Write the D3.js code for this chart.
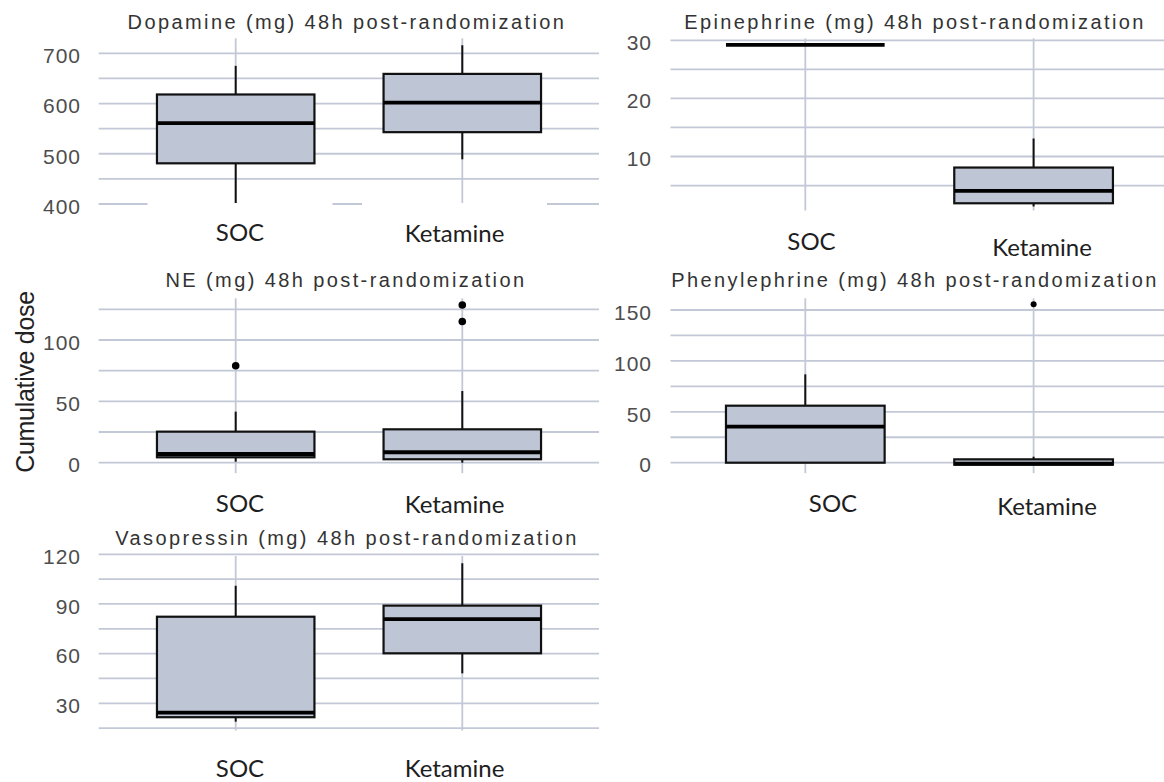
<!DOCTYPE html>
<html><head><meta charset="utf-8">
<script src="https://cdn.jsdelivr.net/npm/d3@7"></script>
<style>html,body{margin:0;padding:0;background:#fff;} svg{display:block;}</style>
</head><body><svg id="chart" width="1164" height="782"></svg>
<script>
// ---------- data ----------
const groups = ["SOC", "Ketamine"];
const panelTitles = [
  "Dopamine (mg) 48h post-randomization",
  "Epinephrine (mg) 48h post-randomization",
  "NE (mg) 48h post-randomization",
  "Phenylephrine (mg) 48h post-randomization",
  "Vasopressin (mg) 48h post-randomization"
];
// per group: [lower whisker, Q1, median, Q3, upper whisker]
const dopamineStats      = [[400, 481, 561, 618, 675], [489, 543, 602, 659, 716]];
const epinephrineStats   = [[29.2, 29.2, 29.2, 29.2, 29.2], [1.4, 1.95, 4.1, 8.1, 13.1]];
const neStats            = [[0.8, 4.4, 7.1, 25.3, 41.6], [0, 2.8, 8.5, 27.2, 58.4]];
const phenylephrineStats = [[0, 0, 35.4, 56, 86.8], [-2, -2, -1, 3.3, 5.9]];
const vasopressinStats   = [[18.9, 21.6, 24.4, 82.3, 101], [48.1, 60.2, 80.9, 89, 114.6]];
const dopamineOutliers      = [[], []];
const epinephrineOutliers   = [[], []];
const neOutliers            = [[79], [115, 128.5]];
const phenylephrineOutliers = [[], [155.6]];
const vasopressinOutliers   = [[], []];
const dopamineTicks = [400, 500, 600, 700];
const dopamineMinor = [450, 550, 650];
const epinephrineTicks = [10, 20, 30];
const epinephrineMinor = [5, 15, 25];
const neTicks = [0, 50, 100];
const neMinor = [25, 75, 125];
const phenylephrineTicks = [0, 50, 100, 150];
const phenylephrineMinor = [25, 75, 125];
const vasopressinTicks = [30, 60, 90, 120];
const vasopressinMinor = [15, 45, 75, 105];
const yAxisTitle = "Cumulative dose";

// ---------- layout (positions / styles only) ----------
const panels = [
  {stats: dopamineStats, out: dopamineOutliers, ticks: dopamineTicks, minor: dopamineMinor,
   cal: [400, 700], calPx: [204, 53.3], gx: [98.7, 599], centers: [235.7, 462.3], vy: [38.3, 203],
   tickRight: 81, titleX: 347, titleY: 28.5, labDx: [4.3, -7.8], labY: [241, 242], r: 3.8},
  {stats: epinephrineStats, out: epinephrineOutliers, ticks: epinephrineTicks, minor: epinephrineMinor,
   cal: [10, 30], calPx: [156.5, 40.3], gx: [670.5, 1164], centers: [805.3, 1033.6], vy: [38.3, 210.7],
   tickRight: 652, titleX: 915, titleY: 28.5, labDx: [6.2, 8.4], labY: [250, 256], r: 3.8},
  {stats: neStats, out: neOutliers, ticks: neTicks, minor: neMinor,
   cal: [0, 125], calPx: [462.7, 309.3], gx: [98.7, 599], centers: [235.7, 462.3], vy: [298.3, 473.3],
   tickRight: 81, titleX: 346, titleY: 287, labDx: [4.3, -7.8], labY: [512, 513], r: 3.8},
  {stats: phenylephrineStats, out: phenylephrineOutliers, ticks: phenylephrineTicks, minor: phenylephrineMinor,
   cal: [0, 150], calPx: [462.7, 310], gx: [670.5, 1164], centers: [805.3, 1033.6], vy: [298.3, 473.3],
   tickRight: 652, titleX: 915, titleY: 287, labDx: [27.7, 13.4], labY: [512, 515], r: 3.0},
  {stats: vasopressinStats, out: vasopressinOutliers, ticks: vasopressinTicks, minor: vasopressinMinor,
   cal: [30, 120], calPx: [703.3, 554.3], gx: [98.7, 599], centers: [235.7, 462.3], vy: [556, 730.7],
   tickRight: 81, titleX: 347, titleY: 545, labDx: [4.3, -7.8], labY: [777, 777], r: 3.8}
];

const gridColor = "#c3c8d7";
const boxFill = "#bec5d5";
const svg = d3.select("#chart");

panels.forEach((p, i) => {
  const g = svg.append("g");
  const y = d3.scaleLinear().domain(p.cal).range(p.calPx);
  const x = d3.scalePoint().domain(groups).range(p.centers);
  const bw = 0.695 * (p.centers[1] - p.centers[0]);

  // horizontal gridlines
  g.selectAll("line.h").data(p.ticks.concat(p.minor)).join("line")
    .attr("x1", p.gx[0]).attr("x2", p.gx[1])
    .attr("y1", d => y(d)).attr("y2", d => y(d))
    .attr("stroke", gridColor).attr("stroke-width", 1.8);

  // vertical gridlines
  g.selectAll("line.v").data(groups).join("line")
    .attr("x1", d => x(d)).attr("x2", d => x(d))
    .attr("y1", p.vy[0]).attr("y2", p.vy[1])
    .attr("stroke", gridColor).attr("stroke-width", 1.8);

  // y axis tick labels
  const ax = g.append("g").attr("transform", `translate(${p.tickRight},0)`)
    .call(d3.axisLeft(y).tickValues(p.ticks).tickSize(0).tickPadding(0));
  ax.select(".domain").remove();
  ax.selectAll("text")
    .attr("dy", "0.44em")
    .attr("font-family", "'Liberation Sans', Arial, sans-serif")
    .attr("font-size", 21).attr("letter-spacing", 1)
    .attr("fill", "#4d4d4d");

  // boxes
  groups.forEach((grp, k) => {
    const [lo, q1, med, q3, hi] = p.stats[k];
    const cx = x(grp);
    g.append("line").attr("x1", cx).attr("x2", cx).attr("y1", y(q3)).attr("y2", y(hi))
      .attr("stroke", "#111").attr("stroke-width", 2);
    g.append("line").attr("x1", cx).attr("x2", cx).attr("y1", y(q1)).attr("y2", y(lo))
      .attr("stroke", "#111").attr("stroke-width", 2);
    g.append("rect").attr("x", cx - bw / 2).attr("width", bw)
      .attr("y", y(q3)).attr("height", Math.max(0, y(q1) - y(q3)))
      .attr("fill", boxFill).attr("stroke", "#111").attr("stroke-width", 2.2);
    g.append("line").attr("x1", cx - bw / 2).attr("x2", cx + bw / 2)
      .attr("y1", y(med)).attr("y2", y(med))
      .attr("stroke", "#000").attr("stroke-width", 3.8);
    g.selectAll(null).data(p.out[k]).join("circle")
      .attr("cx", cx).attr("cy", d => y(d)).attr("r", p.r).attr("fill", "#000");
  });

  // x labels with white backgrounds
  groups.forEach((grp, k) => {
    const lx = x(grp) + p.labDx[k];
    g.append("rect").attr("x", lx - 92.5).attr("width", 185)
      .attr("y", p.vy[1]).attr("height", 46).attr("fill", "#fff");
    g.append("text").attr("x", lx).attr("y", p.labY[k])
      .attr("text-anchor", "middle")
      .attr("font-family", "Lato, 'Open Sans', sans-serif")
      .attr("font-size", 24).attr("fill", "#1e1e1e")
      .text(grp);
  });

  // title
  g.append("text").attr("x", p.titleX).attr("y", p.titleY)
    .attr("text-anchor", "middle")
    .attr("font-family", "'Liberation Sans', Arial, sans-serif")
    .attr("font-size", 20).attr("letter-spacing", 2.4)
    .attr("fill", "#333").text(panelTitles[i]);
});

svg.append("text")
  .attr("transform", "translate(25,382) rotate(-90)")
  .attr("text-anchor", "middle").attr("dominant-baseline", "central")
  .attr("font-family", "'Liberation Sans', Arial, sans-serif")
  .attr("font-size", 25).attr("letter-spacing", -0.3)
  .attr("fill", "#222").text(yAxisTitle);
</script>
</body></html>
